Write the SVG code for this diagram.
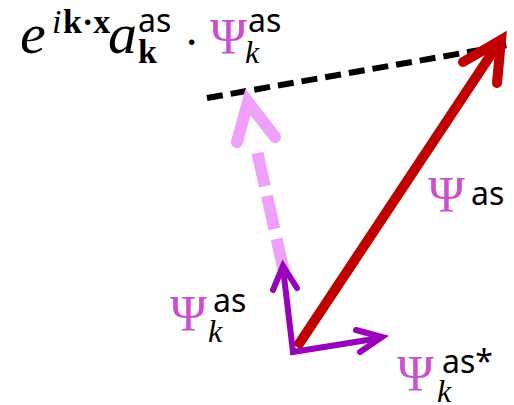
<svg xmlns="http://www.w3.org/2000/svg" width="514" height="405" viewBox="0 0 514 405">
<style>
.it{font-family:"Liberation Serif",serif;font-style:italic;fill:#000}
.bd{font-family:"Liberation Serif",serif;font-weight:bold;fill:#000}
.sn{font-family:"Noto Sans","Liberation Sans",sans-serif;fill:#000;font-size:32px}
.psi{font-family:"Liberation Serif",serif;fill:#CC4FD0;font-size:50px}
.ar{fill:none;stroke-linecap:round;stroke-linejoin:miter}
</style>
<rect width="514" height="405" fill="#fff"/>
<g id="connectors">
<line x1="207" y1="98" x2="514" y2="44" stroke="#000" stroke-width="6" stroke-dasharray="16 8"/>
<line x1="257.5" y1="153" x2="284" y2="272" stroke="#EEA0FA" stroke-width="12" stroke-dasharray="34 10"/>
<path class="ar" d="M237,142 L248,102 L275,137" stroke="#EEA0FA" stroke-width="12"/>
<line x1="297" y1="347" x2="498" y2="44" stroke="#C00000" stroke-width="10"/>
<path class="ar" d="M463,62 L501,40 L497,83" stroke="#C00000" stroke-width="10"/>
<path class="ar" d="M283,268 L293,352 L380,338" stroke="#9900BB" stroke-width="6" stroke-linejoin="round"/>
<path class="ar" d="M273,290 L283,266 L297,288" stroke="#9900BB" stroke-width="6"/>
<path class="ar" d="M356,330 L382,337 L360,352" stroke="#9900BB" stroke-width="6"/>
</g>
<g id="formula">
<text class="it" x="20" y="53" font-size="58">e</text>
<text class="it" x="52" y="33" font-size="34">i</text>
<text class="bd" x="63" y="33" font-size="34">k·x</text>
<text class="it" x="108" y="53" font-size="58">a</text>
<text class="sn" x="138" y="32">as</text>
<text class="bd" x="138" y="63" font-size="34">k</text>
<text class="bd" x="186" y="53" font-size="34">·</text>
<text class="psi" x="210" y="53">Ψ</text>
<text class="sn" x="248" y="32">as</text>
<text class="it" x="245" y="63" font-size="32">k</text>
</g>
<g id="label-psi-as">
<text class="psi" x="428" y="211">Ψ</text>
<text class="sn" x="471" y="205">as</text>
</g>
<g id="label-psi-k">
<text class="psi" x="170" y="330">Ψ</text>
<text class="sn" x="213" y="312">as</text>
<text class="it" x="208" y="342" font-size="32">k</text>
</g>
<g id="label-psi-k-star">
<text class="psi" x="397" y="390">Ψ</text>
<text class="sn" x="442" y="373">as*</text>
<text class="it" x="437" y="402" font-size="32">k</text>
</g>
</svg>
